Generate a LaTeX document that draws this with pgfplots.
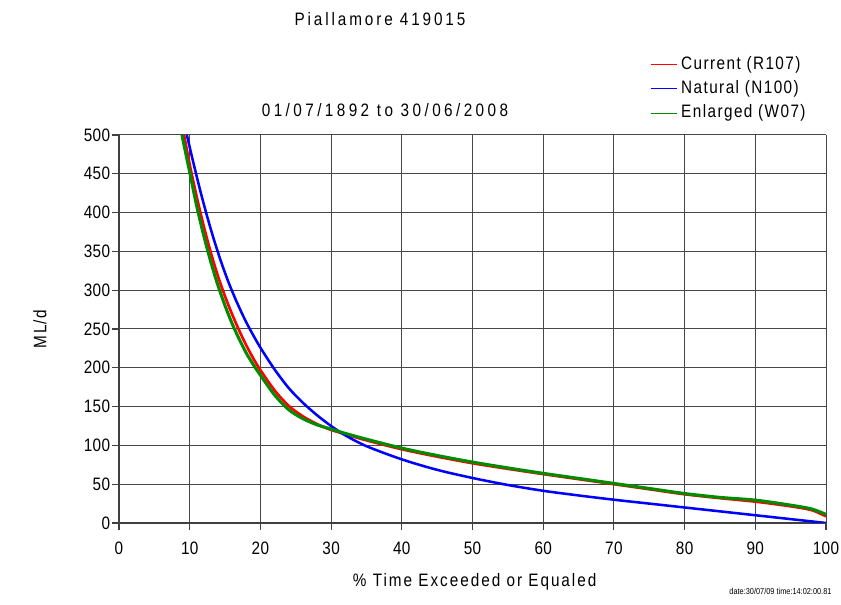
\documentclass[border=0pt]{standalone}
\usepackage{fontspec}
\setmainfont{Liberation Sans}[FakeStretch=0.85]
\usepackage{pgfplots}
\pgfplotsset{compat=1.18}

\newcommand{\lbl}[1]{\fontsize{13.5}{15}\selectfont\addfontfeatures{LetterSpace=#1}}

\begin{document}
\begin{tikzpicture}
\useasboundingbox (0,0) rectangle (630.75pt,453.75pt);
\begin{axis}[
    at={(89.25pt,61.5pt)}, anchor=south west,
    scale only axis,
    width=530.25pt, height=291pt,
    xmin=0, xmax=100, ymin=0, ymax=500,
    xtick={0,10,...,100}, ytick={0,50,...,500},
    axis lines=left,
    axis line style={-, draw=black!75, line width=0.8pt},
    grid=major,
    grid style={black!72, line width=0.75pt},
    tick align=outside, major tick length=5pt,
    tick style={black!75, line width=0.8pt},
    ticklabel style={font=\lbl{2}, inner sep=0pt},
    /pgf/number format/assume math mode=true,
    xticklabel style={anchor=north, yshift=-9pt},
    yticklabel style={anchor=east, xshift=-1.5pt},
    legend style={at={(0.751,1.205)}, anchor=north west, draw=none, fill=none,
        font=\lbl{8}, row sep=5.3pt, inner sep=0pt,
        nodes={inner sep=0pt, text height=10pt, text depth=3pt},
        /tikz/every odd column/.append style={column sep=3pt}},
    legend cell align=left,
    legend image code/.code={\draw[#1, line width=0.7pt] (0pt,0pt) -- (19.5pt,0pt);},
]
% Current (R107)
\addplot[red, line width=2pt, smooth, tension=0.5] coordinates {
 (9.2,500) (10,462) (11,420) (12,382) (13,348) (14,318) (15,292) (16,269)
 (17,248) (18,229) (19,212) (20,197) (22,171) (24,151) (26,137.5) (28,127.5)
 (30,120) (32,114.5) (35,106.5) (40,95) (45,85.5) (50,77) (55,69.8) (60,63)
 (65,56.5) (70,50) (75,43.5) (80,37) (85,32) (90,27.5) (95,21.5) (98,16.5)
 (100,8.5)};
\addlegendentry{Current (R107)}
% Natural (N100)
\addplot[blue, line width=1.9pt, smooth, tension=0.5] coordinates {
 (9.6,500) (10.5,465) (11.5,428) (12.5,394) (13.5,363) (14.5,335) (15.5,310)
 (16.5,288) (17.5,268) (18.5,250) (20,226) (22,198) (24,174) (26,155) (28,139)
 (30,125) (32,113) (35,99) (40,82) (45,68.5) (50,58) (55,49) (60,41.5)
 (65,35.5) (70,30) (75,25) (80,20) (85,15) (90,10) (95,5) (100,0)};
\addlegendentry{Natural (N100)}
% Enlarged (W07)
\addplot[black!45!green, line width=2.3pt, smooth, tension=0.5] coordinates {
 (8.9,500) (10,452) (11,408) (12,370) (13,336) (14,306) (15,280) (16,257)
 (17,237) (18,219) (19,204) (20,190.5) (22,165) (24,146) (26,134.5) (28,126.5)
 (30,121) (32,115.5) (35,108) (40,96.5) (45,87) (50,78.5) (55,71) (60,64)
 (65,57.5) (70,51) (75,44.5) (80,38) (85,33) (90,29.5) (95,23) (98,18)
 (100,11)};
\addlegendentry{Enlarged (W07)}
\end{axis}
\node[font=\lbl{16}, anchor=base, inner sep=0pt] at (285pt,434.5pt) {Piallamore 419015};
\node[font=\lbl{19}, anchor=base, inner sep=0pt] at (288.75pt,366.2pt) {01/07/1892 to 30/06/2008};
\node[font=\lbl{8}, rotate=90, inner sep=0pt] at (30pt,207pt) {ML/d};
\node[font=\lbl{11}, anchor=base, inner sep=0pt] at (356pt,13.5pt) {\% Time Exceeded or Equaled};
\node[font=\fontsize{6.5}{7}\selectfont, anchor=east, inner sep=0pt] at (623.8pt,10pt) {date:30/07/09 time:14:02:00.81};
\end{tikzpicture}
\end{document}
